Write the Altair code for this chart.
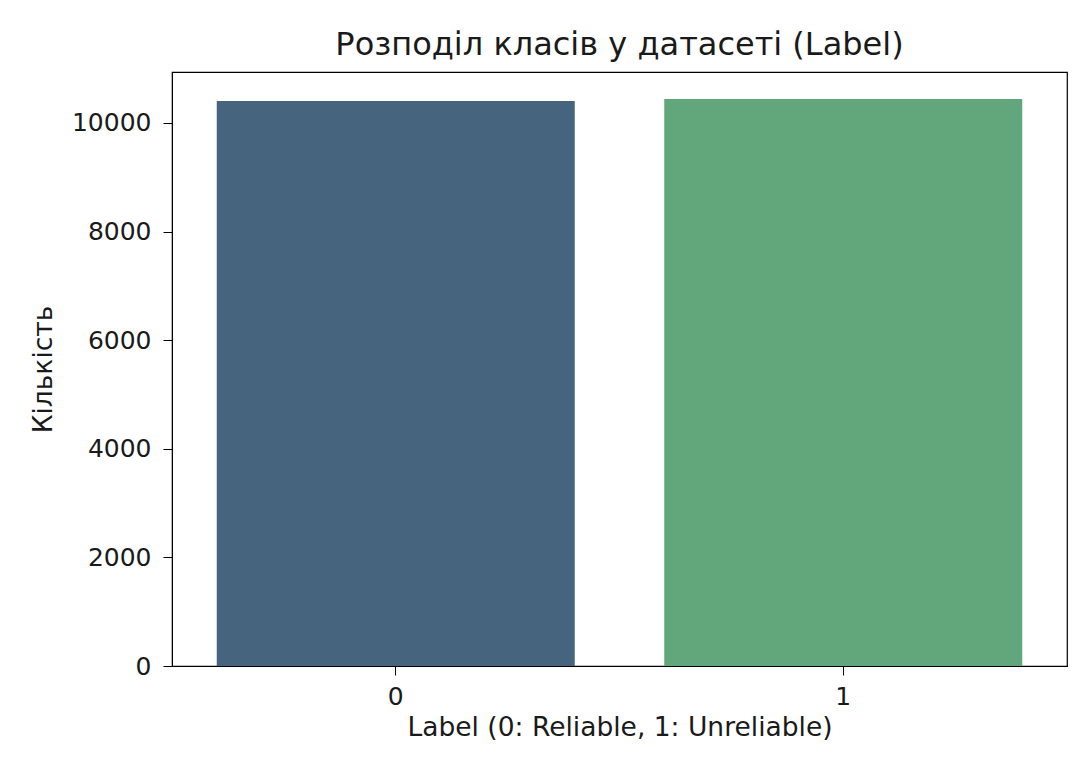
import altair as alt
import pandas as pd

categories = ["0", "1"]
counts = [10405, 10442]
colors = ["#46647d", "#62a67c"]

df = pd.DataFrame({"label": categories, "count": counts})

font = "DejaVu Sans"
tick_fs = 25
axis_title_fs = 26.5
title_fs = 32

chart = alt.Chart(df).mark_bar().encode(
    x=alt.X("label:N",
            scale=alt.Scale(paddingInner=0.2, paddingOuter=0.1),
            axis=alt.Axis(title="Label (0: Reliable, 1: Unreliable)", labelAngle=0,
                          labelFontSize=tick_fs, titleFontSize=axis_title_fs, labelFont=font, titleFont=font,
                          titleFontWeight="normal",
                          labelColor="#1a1a1a", titleColor="#1a1a1a",
                          tickColor="black", domainColor="black", tickSize=9,
                          labelPadding=9, titlePadding=5)),
    y=alt.Y("count:Q",
            scale=alt.Scale(domain=[0, 10939], nice=False),
            axis=alt.Axis(title="Кількість", values=[0, 2000, 4000, 6000, 8000, 10000],
                          format="d", grid=False,
                          labelFontSize=tick_fs, titleFontSize=axis_title_fs, labelFont=font, titleFont=font,
                          titleFontWeight="normal",
                          labelColor="#1a1a1a", titleColor="#1a1a1a",
                          tickColor="black", domainColor="black", tickSize=9,
                          labelPadding=12, titlePadding=14)),
    color=alt.Color("label:N", scale=alt.Scale(domain=categories, range=colors), legend=None),
).properties(
    width=895,
    height=594,
    title=alt.TitleParams("Розподіл класів у датасеті (Label)", font=font, fontSize=title_fs,
                          fontWeight="normal", color="#1a1a1a", offset=10),
    autosize=alt.AutoSizeParams(type="none"),
    padding={"left": 164, "top": 64, "right": 5, "bottom": 91},
).configure_view(stroke="black", strokeWidth=1.2)

chart.save("out.html", embed_options={"renderer": "svg", "actions": False})
